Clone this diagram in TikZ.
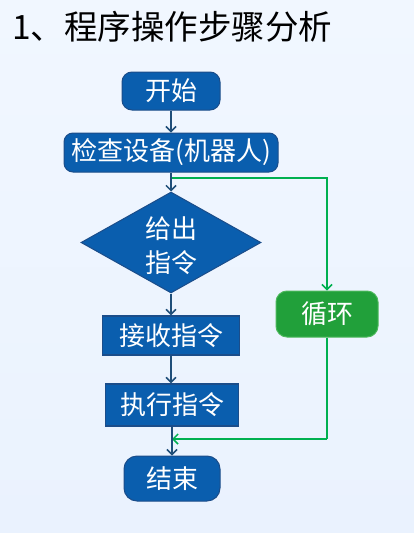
\documentclass[tikz,border=0pt]{standalone}
\usepackage{fontspec}
\setmainfont{Noto Sans CJK SC}
\usetikzlibrary{shapes.geometric,arrows.meta}
\definecolor{bgtop}{HTML}{F1F7FF}
\definecolor{bgbot}{HTML}{EAF2FE}
\definecolor{bfill}{HTML}{0A5EAE}
\definecolor{bdraw}{HTML}{1B4D8A}
\definecolor{arr}{HTML}{1F4E79}
\definecolor{gline}{HTML}{00B050}
\definecolor{gfill}{HTML}{21A03A}
\definecolor{gdraw}{HTML}{4DB85C}
\begin{document}
\begin{tikzpicture}[x=1pt,y=-1pt,
  lbl/.style={text=white,font=\fontsize{26}{30}\selectfont,inner sep=0pt,align=center},
  term/.style={lbl,rectangle,rounded corners=10pt,fill=bfill,draw=bdraw,line width=1pt},
  procbox/.style={lbl,rectangle,fill=bfill,draw=bdraw,line width=1.3pt},
  decide/.style={lbl,diamond,fill=bfill,draw=bdraw,line width=1pt,font=\fontsize{26}{34}\selectfont},
  loopbox/.style={lbl,rectangle,rounded corners=11pt,fill=gfill,draw=gdraw,line width=1pt},
  barr/.style={draw=arr,line width=1.5pt,-{Straight Barb[length=5pt,width=10pt]}},
  garr/.style={draw=gline,line width=1.5pt,-{Straight Barb[length=5pt,width=10pt]}},
  gl/.style={draw=gline,line width=1.5pt}]
\shade[top color=bgtop,bottom color=bgbot] (0,0) rectangle (414,533);
\useasboundingbox (0,0) rectangle (414,533);

\node[anchor=base west,inner sep=0pt,font=\fontsize{33.5}{36}\selectfont] (title) at (12,39) {1、程序操作步骤分析};

\node[term,minimum width=98pt,minimum height=38pt] (start) at (171,91) {开始};
\node[term,rounded corners=9pt,minimum width=214pt,minimum height=39pt] (check) at (171,152.5) {检查设备(机器人)};
\node[decide,minimum width=180pt,minimum height=101pt] (give) at (171,242.5) {\makebox[0pt]{\smash{\raisebox{-12pt}{\begin{tabular}{@{}c@{}}给出\\指令\end{tabular}}}}};
\node[procbox,minimum width=137pt,minimum height=39pt] (recv) at (171,335.5) {接收指令};
\node[procbox,minimum width=133pt,minimum height=42pt] (exec) at (172,405) {执行指令};
\node[term,rounded corners=13pt,minimum width=96pt,minimum height=45pt] (end) at (172,478.5) {结束};
\node[loopbox,minimum width=102pt,minimum height=46pt] (loop) at (327,314) {循环};

\coordinate (split) at (171,178);
\coordinate (join) at (172,439);

\draw[garr] (split) -| (loop.north);
\draw[gl] (loop.south) -- (loop.south |- join);
\draw[garr] (loop.south |- join) -- (join);

\draw[barr] (start) -- (check);
\draw[barr] (check) -- (give);
\draw[barr] (give) -- (recv);
\draw[barr] (recv.south) -- (recv.south |- exec.north);
\draw[barr] (exec) -- (end);
\end{tikzpicture}
\end{document}
